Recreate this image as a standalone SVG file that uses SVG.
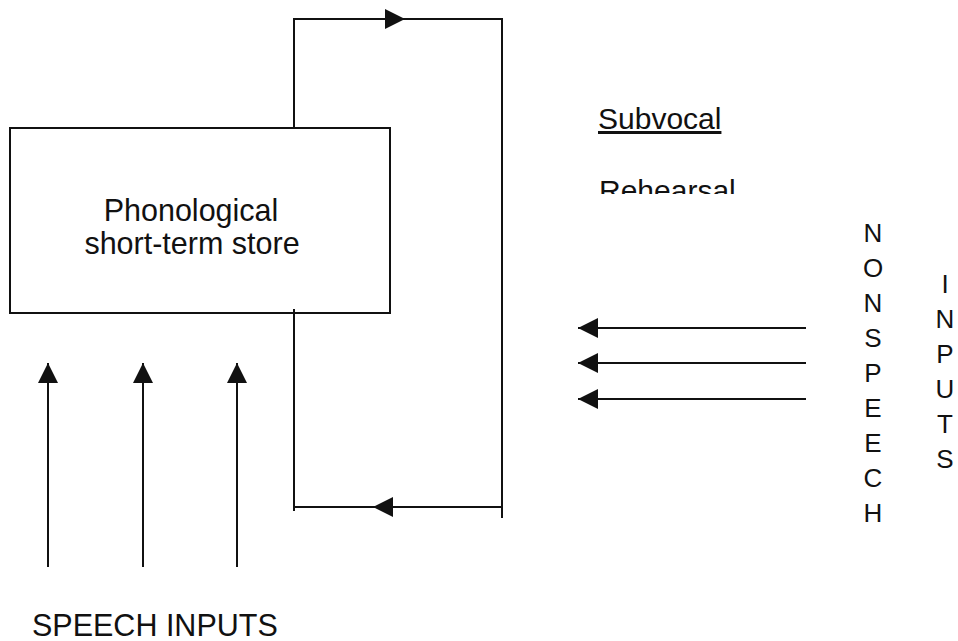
<svg xmlns="http://www.w3.org/2000/svg" width="958" height="641" viewBox="0 0 958 641">
<defs>
<style>
.ln{fill:none;stroke:#111;stroke-width:2}
.t{font-family:"Liberation Sans",Arial,sans-serif;fill:#111}
.lt{font-family:"Liberation Sans",Arial,sans-serif;fill:#111;font-size:26px;text-anchor:middle}
</style>
<marker id="ah" markerUnits="userSpaceOnUse" viewBox="0 0 20 20" refX="20" refY="10" markerWidth="20" markerHeight="20" orient="auto">
<path d="M0,0 L20,10 L0,20 Z" fill="#111"/>
</marker>
<clipPath id="clipR"><rect x="580" y="160" width="200" height="34"/></clipPath>
</defs>
<rect width="958" height="641" fill="#fff"/>
<g id="store">
<rect class="ln" x="10" y="128" width="380" height="185"/>
<text class="t" x="191" y="221" font-size="30.5" text-anchor="middle">Phonological</text>
<text class="t" x="192" y="254" font-size="30.5" text-anchor="middle">short-term store</text>
</g>
<g id="rehearsal-label">
<text class="t" x="598" y="129" font-size="30" text-decoration="underline">Subvocal</text>
<text class="t" x="599" y="201" font-size="30" clip-path="url(#clipR)">Rehearsal</text>
</g>
<g id="connectors">
<path class="ln" d="M294 128 V19 H405" marker-end="url(#ah)"/>
<path class="ln" d="M405 19 H502 V518"/>
<path class="ln" d="M502 507 H373" marker-end="url(#ah)"/>
<path class="ln" d="M373 507 H294"/>
<path class="ln" d="M294 309 V511"/>
<line class="ln" x1="806" y1="328" x2="578" y2="328" marker-end="url(#ah)"/>
<line class="ln" x1="806" y1="363" x2="578" y2="363" marker-end="url(#ah)"/>
<line class="ln" x1="806" y1="399" x2="578" y2="399" marker-end="url(#ah)"/>
<line class="ln" x1="48" y1="567" x2="48" y2="363" marker-end="url(#ah)"/>
<line class="ln" x1="143" y1="567" x2="143" y2="363" marker-end="url(#ah)"/>
<line class="ln" x1="237" y1="567" x2="237" y2="363" marker-end="url(#ah)"/>
</g>
<g id="speech-inputs">
<text class="t" x="32" y="636" font-size="30.5">SPEECH INPUTS</text>
</g>
<g id="nonspeech">
<text class="lt" x="873" y="242">N</text>
<text class="lt" x="873" y="277">O</text>
<text class="lt" x="873" y="312">N</text>
<text class="lt" x="873" y="347">S</text>
<text class="lt" x="873" y="382">P</text>
<text class="lt" x="873" y="417">E</text>
<text class="lt" x="873" y="452">E</text>
<text class="lt" x="873" y="487">C</text>
<text class="lt" x="873" y="522">H</text>
</g>
<g id="inputs">
<text class="lt" x="945" y="293">I</text>
<text class="lt" x="945" y="328">N</text>
<text class="lt" x="945" y="363">P</text>
<text class="lt" x="945" y="398">U</text>
<text class="lt" x="945" y="433">T</text>
<text class="lt" x="945" y="468">S</text>
</g>
</svg>
